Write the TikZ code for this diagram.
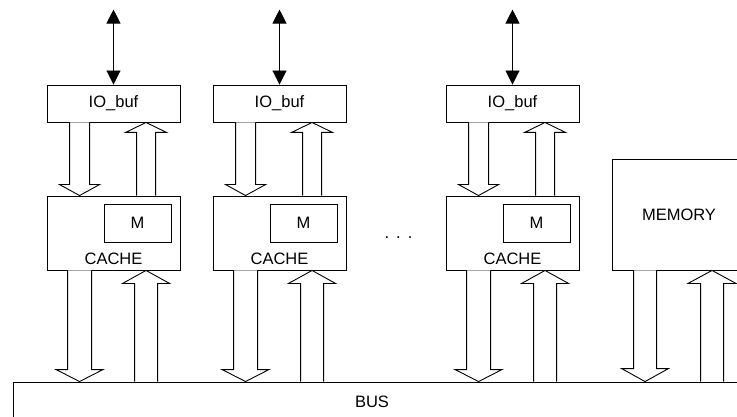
\documentclass[tikz,border=0pt]{standalone}
\usepackage{fontspec}
\setmainfont{Liberation Sans}
\usetikzlibrary{arrows.meta,positioning,calc}
\tikzset{
  blockbox/.style={draw=black,line width=0.9pt,fill=white,inner sep=0pt,font=\fontsize{16.5}{19}\selectfont},
  iobox/.style={blockbox,minimum width=133pt,minimum height=37pt},
  cachebox/.style={blockbox,minimum width=133pt,minimum height=74pt},
  mbox/.style={blockbox,minimum width=67pt,minimum height=38pt},
  membox/.style={blockbox,minimum width=134pt,minimum height=111pt},
  busbox/.style={blockbox,minimum width=747pt,minimum height=40pt},
  every label/.style={font=\fontsize{16.5}{19}\selectfont},
  portline/.style={{Triangle[length=14pt,width=14pt]}-{Triangle[length=14pt,width=14pt]},line width=0.9pt},
  fatarrow/.style={draw=black,line width=0.9pt,fill=white},
}
% hollow block arrow: x reference, start, tip, shaft half width, head half width, head length
\newcommand{\fatlink}[6]{%
  \draw[fatarrow] let \p3=#1, \p1=(#2), \p2=(#3),
      \n2={\y2-ifthenelse(\y2>\y1,1,-1)*#6} in
    (\x3-#4pt,\y1) -- (\x3-#4pt,\n2) -- (\x3-#5pt,\n2) -- (\x3,\y2)
    -- (\x3+#5pt,\n2) -- (\x3+#4pt,\n2) -- (\x3+#4pt,\y1);}

\begin{document}
\begin{tikzpicture}[x=1pt,y=-1pt]
  \path[use as bounding box,clip] (0,0) rectangle (737,417);
  % bus
  \node[busbox,label={[anchor=center,yshift=-20pt,xshift=-14.5pt]north:BUS}] (bus) at (386.5,402) {};
  % first unit
  \node[iobox] (io1) at (113.5,103.5) {IO\_buf};
  \node[cachebox,label={[anchor=south,inner sep=6pt]south:CACHE}] (cache1) at (113.5,233) {};
  \node[mbox] (m1) at (137.5,223) {M};
  \coordinate[above=75pt of io1] (port1);
  % second unit
  \node[iobox] (io2) at (279.5,103.5) {IO\_buf};
  \node[cachebox,label={[anchor=south,inner sep=6pt]south:CACHE}] (cache2) at (279.5,233) {};
  \node[mbox] (m2) at (303.5,223) {M};
  \coordinate[above=75pt of io2] (port2);
  % last unit
  \node[iobox] (io3) at (512.5,103.5) {IO\_buf};
  \node[cachebox,label={[anchor=south,inner sep=6pt]south:CACHE}] (cache3) at (512.5,233) {};
  \node[mbox] (m3) at (536.5,223) {M};
  \coordinate[above=75pt of io3] (port3);
  \node[font=\fontsize{16.5}{19}\selectfont,anchor=base] (dots) at (398.5,238.5) {.\hspace{7pt}.\hspace{7pt}.};
  % memory
  \node[membox] (mem) at (679,214.5) {MEMORY};
  \draw[portline] (port1) -- (io1);
  \draw[portline] (port2) -- (io2);
  \draw[portline] (port3) -- (io3);
  \fatlink{($(io1.west)+(33,0)$)}{io1.south}{cache1.north}{10}{20}{11}
  \fatlink{($(io1.west)+(99.5,0)$)}{cache1.north}{io1.south}{9.5}{20.5}{10}
  \fatlink{($(cache1.west)+(33,0)$)}{cache1.south}{bus.north}{12}{23.5}{12}
  \fatlink{($(cache1.west)+(99.5,0)$)}{bus.north}{cache1.south}{11.5}{23.5}{13}
  \fatlink{($(io2.west)+(33,0)$)}{io2.south}{cache2.north}{10}{20}{11}
  \fatlink{($(io2.west)+(99.5,0)$)}{cache2.north}{io2.south}{9.5}{20.5}{10}
  \fatlink{($(cache2.west)+(33,0)$)}{cache2.south}{bus.north}{12}{23.5}{12}
  \fatlink{($(cache2.west)+(99.5,0)$)}{bus.north}{cache2.south}{11.5}{23.5}{13}
  \fatlink{($(io3.west)+(33,0)$)}{io3.south}{cache3.north}{10}{20}{11}
  \fatlink{($(io3.west)+(99.5,0)$)}{cache3.north}{io3.south}{9.5}{20.5}{10}
  \fatlink{($(cache3.west)+(33,0)$)}{cache3.south}{bus.north}{12}{23.5}{12}
  \fatlink{($(cache3.west)+(99.5,0)$)}{bus.north}{cache3.south}{11.5}{23.5}{13}
  \fatlink{($(mem.west)+(33.5,0)$)}{mem.south}{bus.north}{11.5}{23.5}{13}
  \fatlink{($(mem.west)+(100.5,0)$)}{bus.north}{mem.south}{11.5}{24}{13}
\end{tikzpicture}
\end{document}
